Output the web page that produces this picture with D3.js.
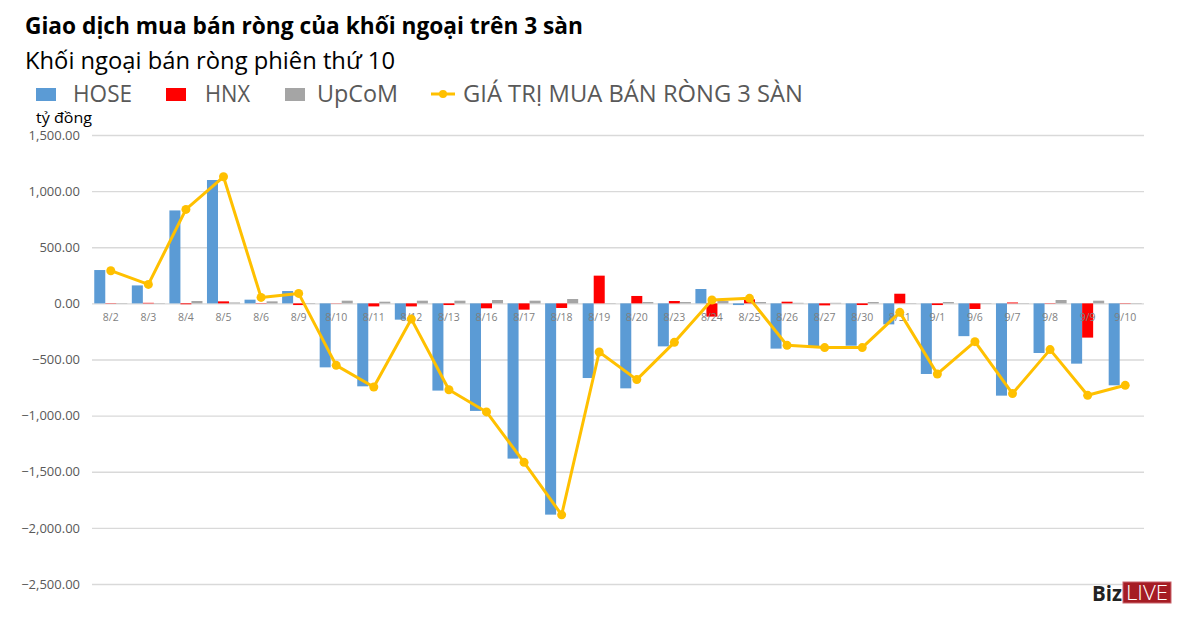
<!DOCTYPE html>
<html>
<head>
<meta charset="utf-8">
<script src="https://cdn.jsdelivr.net/npm/d3@7"></script>
<style>
  body { margin: 0; background: #fff; }
  svg { display: block; font-family: "Open Sans", sans-serif; }
</style>
</head>
<body>
<div id="chart"></div>
<script>
// data (tỷ đồng)
var days = ["8/2","8/3","8/4","8/5","8/6","8/9","8/10","8/11","8/12","8/13","8/16","8/17","8/18","8/19",
            "8/20","8/23","8/24","8/25","8/26","8/27","8/30","8/31","9/1","9/6","9/7","9/8","9/9","9/10"];
var hose  = [297, 160, 828, 1099, 33, 110, -570, -739, -145, -777, -958, -1383, -1882, -665,
             -757, -383, 128, -15, -403, -380, -377, -187, -629, -292, -822, -442, -537, -730];
var hnx   = [3, 5, -8, 18, 3, -15, 2, -27, -27, -15, -44, -56, -41, 247,
             66, 21, -118, 36, 15, -18, -15, 86, -15, -50, 8, 3, -305, 3];
var upcom = [-3, 3, 21, 8, 18, -4, 24, 15, 24, 24, 30, 24, 39, -3,
             12, 12, 21, 12, 5, 5, 12, 3, 12, 3, 3, 30, 24, 3];
var total = [291, 169, 837, 1128, 53, 89, -552, -745, -140, -769, -967, -1416, -1884, -433,
             -679, -347, 30, 45, -374, -394, -394, -80, -629, -341, -804, -412, -819, -730];
var yTicks = [1500, 1000, 500, 0, -500, -1000, -1500, -2000, -2500];

var seriesNames = ["HOSE", "HNX", "UpCoM"];
var colors = { HOSE: "#5b9bd5", HNX: "#ff0000", UpCoM: "#a5a5a5" };
var lineColor = "#ffc000";

var svgWidth = 1200, svgHeight = 617;
var margin = { top: 135, right: 56, bottom: 33, left: 92 };
var width = svgWidth - margin.left - margin.right;
var height = svgHeight - margin.top - margin.bottom;

var svg = d3.select("#chart").append("svg")
  .attr("width", svgWidth)
  .attr("height", svgHeight);

// titles
svg.append("text").attr("x", 25).attr("y", 34)
  .attr("font-size", 23.5).attr("font-weight", "bold").attr("fill", "#000")
  .attr("textLength", 558).attr("lengthAdjust", "spacingAndGlyphs")
  .text("Giao dịch mua bán ròng của khối ngoại trên 3 sàn");
svg.append("text").attr("x", 25).attr("y", 69)
  .attr("font-size", 23.5).attr("fill", "#000")
  .attr("textLength", 370).attr("lengthAdjust", "spacingAndGlyphs")
  .text("Khối ngoại bán ròng phiên thứ 10");

// legend
var legend = [
  { name: "HOSE", sx: 36, tx: 73, tw: 59 },
  { name: "HNX", sx: 166, tx: 205, tw: 45 },
  { name: "UpCoM", sx: 285, tx: 317, tw: 81 }
];
legend.forEach(function(l) {
  svg.append("rect").attr("x", l.sx).attr("y", 88).attr("width", 20).attr("height", 13)
    .attr("fill", colors[l.name]);
  svg.append("text").attr("x", l.tx).attr("y", 102)
    .attr("font-size", 23).attr("fill", "#595959")
    .attr("textLength", l.tw).attr("lengthAdjust", "spacingAndGlyphs")
    .text(l.name);
});
svg.append("line").attr("x1", 431).attr("x2", 455).attr("y1", 94).attr("y2", 94)
  .attr("stroke", lineColor).attr("stroke-width", 3);
svg.append("circle").attr("cx", 443).attr("cy", 94).attr("r", 4).attr("fill", lineColor);
svg.append("text").attr("x", 463).attr("y", 102)
  .attr("font-size", 23).attr("fill", "#595959")
  .attr("textLength", 340).attr("lengthAdjust", "spacingAndGlyphs")
  .text("GIÁ TRỊ MUA BÁN RÒNG 3 SÀN");

svg.append("text").attr("x", 36).attr("y", 123)
  .attr("font-size", 15).attr("fill", "#000")
  .attr("textLength", 56).attr("lengthAdjust", "spacingAndGlyphs")
  .text("tỷ đồng");

var chartGroup = svg.append("g")
  .attr("transform", "translate(" + margin.left + "," + margin.top + ")");

var x0 = d3.scaleBand().domain(days).range([0, width])
  .paddingInner(0.12).paddingOuter(0.06);
var x1 = d3.scaleBand().domain(seriesNames).range([0, x0.bandwidth()]);
var y = d3.scaleLinear().domain([-2500, 1500]).range([height, 0]);

// gridlines + y labels
var leftAxis = d3.axisLeft(y).tickValues(yTicks).tickSize(-width).tickPadding(12)
  .tickFormat(d3.format(",.2f"));
var yAxisG = chartGroup.append("g").call(leftAxis);
yAxisG.select(".domain").remove();
yAxisG.selectAll("line").attr("stroke", "#d9d9d9").attr("stroke-width", 1.3);
yAxisG.selectAll("text").attr("fill", "#595959").attr("font-size", 13)
  .attr("font-family", "'Open Sans', sans-serif");

// bars
var rows = days.map(function(d, i) {
  return { day: d, HOSE: hose[i], HNX: hnx[i], UpCoM: upcom[i], total: total[i] };
});

var groups = chartGroup.selectAll(".day")
  .data(rows)
  .enter()
  .append("g")
  .attr("transform", d => "translate(" + x0(d.day) + ",0)");

groups.selectAll("rect")
  .data(d => seriesNames.map(k => ({ key: k, value: d[k] })))
  .enter()
  .append("rect")
  .attr("x", d => x1(d.key))
  .attr("width", x1.bandwidth())
  .attr("y", d => y(Math.max(0, d.value)))
  .attr("height", d => Math.abs(y(d.value) - y(0)))
  .attr("fill", d => colors[d.key]);

// category labels sit on top of the bars
var bottomAxis = d3.axisBottom(x0).tickSize(0).tickPadding(10);
var xAxisG = chartGroup.append("g")
  .attr("transform", "translate(0," + y(0) + ")")
  .call(bottomAxis);
xAxisG.select(".domain").remove();
xAxisG.selectAll("text").attr("fill", "#7f7f7f").attr("font-size", 10.5)
  .attr("font-family", "'Open Sans', sans-serif");

// net total line
var line = d3.line()
  .x(d => x0(d.day) + x0.bandwidth() / 2)
  .y(d => y(d.total));

chartGroup.append("path")
  .datum(rows)
  .attr("d", line)
  .attr("fill", "none")
  .attr("stroke", lineColor)
  .attr("stroke-width", 3)
  .attr("stroke-linejoin", "round");

chartGroup.selectAll(".dot")
  .data(rows)
  .enter()
  .append("circle")
  .attr("cx", d => x0(d.day) + x0.bandwidth() / 2)
  .attr("cy", d => y(d.total))
  .attr("r", 4.5)
  .attr("fill", lineColor);

// BizLIVE mark
svg.append("text").attr("x", 1092).attr("y", 601)
  .attr("font-size", 21).attr("font-weight", "bold").attr("fill", "#222")
  .attr("textLength", 30).attr("lengthAdjust", "spacingAndGlyphs")
  .text("Biz");
svg.append("rect").attr("x", 1123).attr("y", 582).attr("width", 48).attr("height", 21)
  .attr("fill", "#a51c24").attr("stroke", "#c9626a").attr("stroke-width", 1);
svg.append("text").attr("x", 1147).attr("y", 600).attr("text-anchor", "middle")
  .attr("font-size", 20).attr("fill", "#fff").attr("font-weight", 300)
  .attr("textLength", 42).attr("lengthAdjust", "spacingAndGlyphs")
  .text("LIVE");
</script>
</body>
</html>
